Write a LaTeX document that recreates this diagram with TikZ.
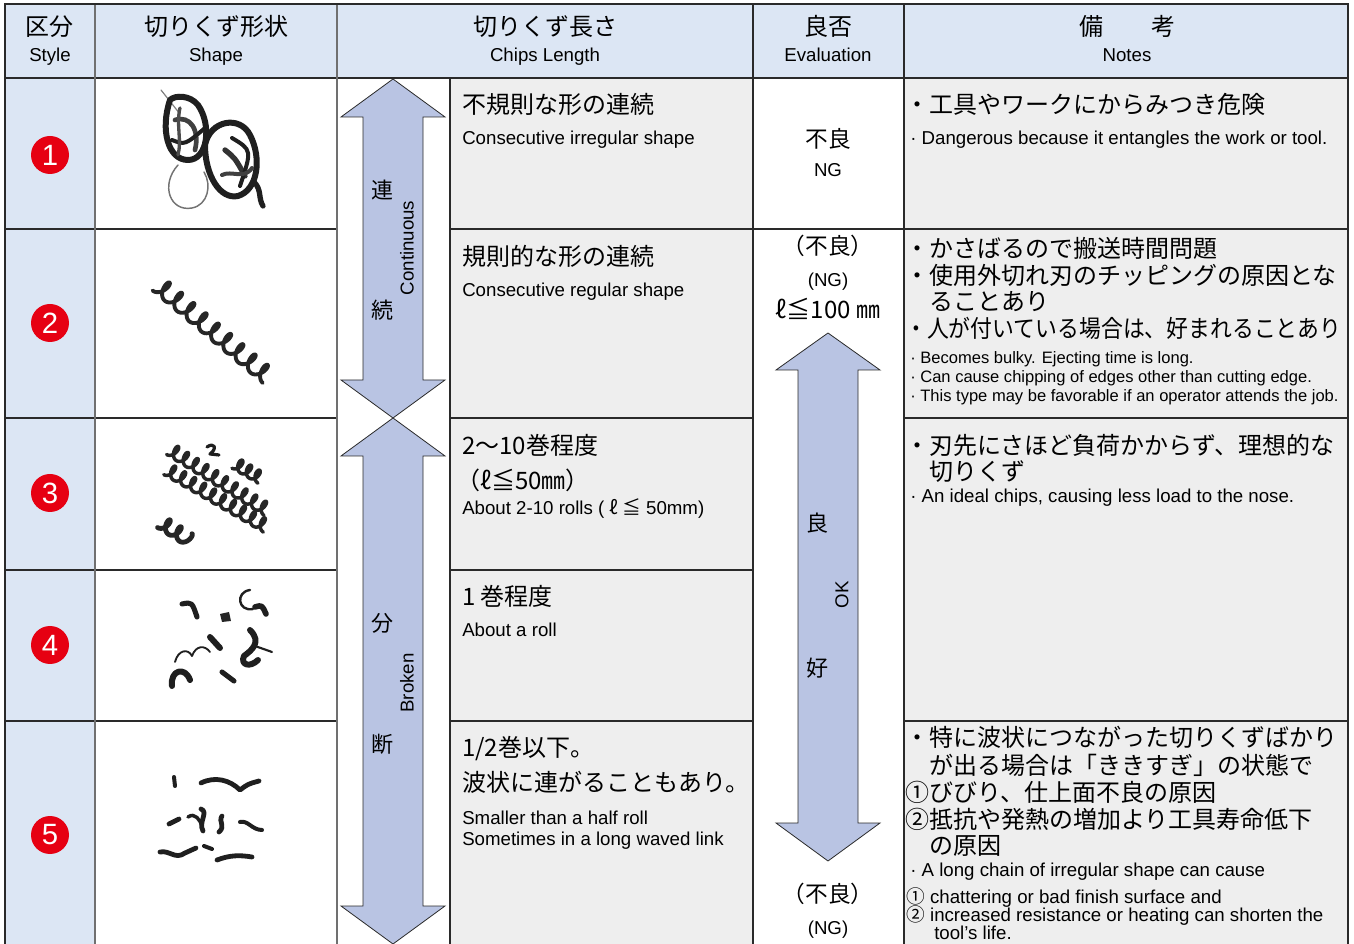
\documentclass[tikz,border=0pt]{standalone}
\usepackage{fontspec}
\setmainfont{Liberation Sans}
\newfontfamily\jp{Noto Sans CJK JP}
\definecolor{hdrblue}{HTML}{DCE6F4}
\definecolor{cellgray}{HTML}{EEEEEE}
\definecolor{arrowblue}{HTML}{B9C4E3}
\definecolor{numred}{HTML}{E60012}
\definecolor{gridc}{HTML}{2A2A2A}
\definecolor{gridg}{HTML}{707070}
\tikzset{
  gridline/.style={draw=gridc, line width=0.9pt},
  gridgray/.style={draw=gridg, line width=1.1pt},
  border/.style={draw=gridc, line width=2.2pt},
  bigarrow/.style={fill=arrowblue, draw=gridc, line width=0.6pt, line join=miter},
  hja/.style={font=\jp\fontsize{18}{20}\selectfont, inner sep=0pt, anchor=base},
  hen/.style={font=\fontsize{14}{16}\selectfont, inner sep=0pt, anchor=base},
  ja/.style={font=\jp\fontsize{18}{20}\selectfont, inner sep=0pt, anchor=base west},
  en/.style={font=\fontsize{14}{16}\selectfont, inner sep=0pt, anchor=base west},
  ensm/.style={font=\fontsize{12.4}{14}\selectfont, inner sep=0pt, anchor=base west},
  evja/.style={font=\jp\fontsize{17}{20}\selectfont, inner sep=0pt, anchor=base},
  even/.style={font=\fontsize{14}{16}\selectfont, inner sep=0pt, anchor=base},
  arja/.style={font=\jp\fontsize{16.5}{18}\selectfont, inner sep=0pt, anchor=center},
  aren/.style={font=\fontsize{14}{16}\selectfont, inner sep=0pt, anchor=center, rotate=90},
  num/.style={circle, fill=numred, text=white, inner sep=0pt, minimum size=28.5pt,
              font=\fontsize{22}{22}\selectfont},
  chip/.style={draw=black!88, line cap=round, line join=round},
  coil/.style={draw=black!85, line cap=round, line join=round, line width=2.4pt},
}
\begin{document}
\begin{tikzpicture}[x=0.75pt,y=-0.75pt]
\useasboundingbox (0,0) rectangle (1354,944);
% ---------- backgrounds
\fill[hdrblue] (5,4) rectangle (1348,78);
\fill[hdrblue] (5,78) rectangle (95,944);
\fill[cellgray] (450,78) rectangle (753,944);
\fill[cellgray] (904,78) rectangle (1348,944);
% ---------- grid
\draw[gridline] (5,78) -- (1348,78);
\draw[gridline] (5,229) -- (337,229) (450,229) -- (1348,229);
\draw[gridline] (5,418) -- (337,418) (450,418) -- (753,418) (904,418) -- (1348,418);
\draw[gridline] (5,570) -- (337,570) (450,570) -- (753,570);
\draw[gridline] (5,721) -- (337,721) (450,721) -- (753,721) (904,721) -- (1348,721);
\draw[gridgray] (95,4) -- (95,944) (337,4) -- (337,944);
\draw[gridline] (450,78) -- (450,944) (753,4) -- (753,944) (904,4) -- (904,944);
\draw[border] (5,944) -- (5,4) -- (1348,4) -- (1348,944);
% ---------- big arrows
\draw[bigarrow] (393,79) -- (445,117) -- (423,117) -- (423,380) -- (445,380) -- (393,418)
  -- (341,380) -- (363,380) -- (363,117) -- (341,117) -- cycle;
\draw[bigarrow] (393,418) -- (445,456) -- (423,456) -- (423,906) -- (445,906) -- (393,944)
  -- (341,906) -- (363,906) -- (363,456) -- (341,456) -- cycle;
\draw[bigarrow] (828,333) -- (880,370) -- (858,370) -- (858,823) -- (880,823) -- (828,861)
  -- (776,823) -- (798,823) -- (798,370) -- (776,370) -- cycle;
% ---------- header
\node[hja] (h1j) at (50,36) {区分};
\node[hen] (h1e) at (50,62) {Style};
\node[hja] (h2j) at (216,36) {切りくず形状};
\node[hen] (h2e) at (216,62) {Shape};
\node[hja] (h3j) at (545,36) {切りくず長さ};
\node[hen] (h3e) at (545,62) {Chips Length};
\node[hja] (h4j) at (828,36) {良否};
\node[hen] (h4e) at (828,62) {Evaluation};
\node[hja] (h5j) at (1127,36) {備　　考};
\node[hen] (h5e) at (1127,62) {Notes};
% ---------- numbers
\node[num] (n1) at (50,155) {1};
\node[num] (n2) at (50,323) {2};
\node[num] (n3) at (50,493) {3};
\node[num] (n4) at (50,645) {4};
\node[num] (n5) at (50,835) {5};
% ---------- arrow labels
\node[arja] (a1) at (382,190) {連};
\node[arja] (a2) at (382,310) {続};
\node[aren] (a3) at (407,248) {Continuous};
\node[arja] (a4) at (382,623) {分};
\node[arja] (a5) at (382,744) {断};
\node[aren] (a6) at (407,683) {Broken};
\node[arja] (a7) at (817,523) {良};
\node[arja] (a8) at (817,668) {好};
\node[aren] (a9) at (842,595) {OK};
% ---------- chips length texts
\node[ja] (c1j) at (462,114) {不規則な形の連続};
\node[en] (c1e) at (462,145) {Consecutive irregular shape};
\node[ja] (c2j) at (462,266) {規則的な形の連続};
\node[en] (c2e) at (462,297) {Consecutive regular shape};
\node[ja] (c3j) at (462,455) {2～10巻程度};
\node[ja] (c3k) at (456,490) {（ℓ≦50㎜）};
\node[en] (c3e) at (462,515) {About 2-10 rolls ( {\jp ℓ ≦} 50mm)};
\node[ja] (c4j) at (462,606) {1 巻程度};
\node[en] (c4e) at (462,637) {About a roll};
\node[ja] (c5j) at (462,757) {1/2巻以下。};
\node[ja] (c5k) at (462,792) {波状に連がることもあり。};
\node[en] (c5e) at (462,824) {Smaller than a half roll};
\node[en] (c5f) at (462,845) {Sometimes in a long waved link};
% ---------- evaluation texts
\node[evja] (e1j) at (828,148) {不良};
\node[even] (e1e) at (828,177) {NG};
\node[evja] (e2j) at (828,255) {（不良）};
\node[even] (e2e) at (828,287) {(NG)};
\node[hja] (e2l) at (828,319) {ℓ≦100 ㎜};
\node[evja] (e5j) at (828,902) {（不良）};
\node[even] (e5e) at (828,934) {(NG)};
% ---------- notes
\node[ja] (r1a) at (905,114) {・工具やワークにからみつき危険};
\node[en] (r1e) at (910,145) {· Dangerous because it entangles the work or tool.};
\node[ja] (r2a) at (905,258) {・かさばるので搬送時間問題};
\node[ja] (r2b) at (905,285) {・使用外切れ刃のチッピングの原因とな};
\node[ja] (r2c) at (905,311) {　ることあり};
\node[ja] (r2d) at (905,338) {\scalebox{0.91}[1]{・人が付いている場合は、好まれることあり}};
\node[ensm] (r2e) at (910,364) {· Becomes bulky. Ejecting time is long.};
\node[ensm] (r2f) at (910,383) {· Can cause chipping of edges other than cutting edge.};
\node[ensm] (r2g) at (910,402) {· This type may be favorable if an operator attends the job.};
\node[ja] (r3a) at (905,455) {・刃先にさほど負荷かからず、理想的な};
\node[ja] (r3b) at (905,481) {　切りくず};
\node[en] (r3e) at (910,503) {· An ideal chips, causing less load to the nose.};
\node[ja] (r5a) at (905,747) {・特に波状につながった切りくずばかり};
\node[ja] (r5b) at (905,774) {　が出る場合は「ききすぎ」の状態で};
\node[ja] (r5c) at (905,801) {①びびり、仕上面不良の原因};
\node[ja] (r5d) at (905,828) {②抵抗や発熱の増加より工具寿命低下};
\node[ja] (r5f) at (905,854) {　の原因};
\node[en] (r5e) at (910,876) {· A long chain of irregular shape can cause};
\node[en] (r5g) at (906,903) {{\jp ①} chattering or bad finish surface and};
\node[en] (r5h) at (906,921) {{\jp ②} increased resistance or heating can shorten the};
\node[en] (r5i) at (934,939) {tool's life.};
% ---------- chip pictures
% row 1: tangled ribbon
\draw[chip, line width=0.9pt, draw=black!50] (161,90) -- (180,114);
\draw[chip, line width=1.1pt, draw=black!55] (178,165) .. controls (160,185) and (170,212) .. (192,208)
  .. controls (208,205) and (212,185) .. (204,172);
\draw[chip, line width=4.5pt] (170,100) .. controls (160,130) and (168,160) .. (188,160)
  .. controls (208,160) and (212,125) .. (198,105) .. controls (190,95) and (175,95) .. (170,100);
\draw[chip, line width=3.5pt, draw=black!75] (175,120) .. controls (190,115) and (200,130) .. (195,150);
\draw[chip, line width=3pt] (172,140) .. controls (185,145) .. (205,128);
\draw[chip, line width=2.5pt, draw=black!70] (180,108) .. controls (176,125) and (182,140) .. (178,155);
\draw[chip, line width=4.5pt] (205,145) .. controls (210,120) and (240,115) .. (250,135)
  .. controls (262,158) and (258,190) .. (238,196) .. controls (220,200) and (205,175) .. (205,145);
\draw[chip, line width=4pt, draw=black!80] (225,150) .. controls (235,158) .. (245,176);
\draw[chip, line width=3pt] (232,138) .. controls (252,150) .. (240,186);
\draw[chip, line width=3pt, draw=black!75] (222,175) .. controls (232,170) and (244,180) .. (252,168);
\draw[chip, line width=4pt] (254,182) .. controls (262,190) and (258,198) .. (263,206);
% row 2: regular helix
\draw[coil, line width=2.9pt, shift={(158,284)}, rotate=-40] plot[domain=0:3240, samples=400, smooth]
  ({\x/360*16 + 5*sin(\x)}, {8.5*cos(\x)});
% row 3: coils
\draw[coil, line width=2.6pt, shift={(170,449)}, rotate=-32] plot[domain=0:3600, samples=400, smooth]
  ({\x/360*11.5 + 4*sin(\x)}, {6.5*cos(\x)});
\draw[coil, line width=2.6pt, shift={(167,469)}, rotate=-30] plot[domain=0:3600, samples=400, smooth]
  ({\x/360*11.5 + 4*sin(\x)}, {6.5*cos(\x)});
\draw[coil, line width=2.6pt, shift={(235,463)}, rotate=-30] plot[domain=0:1080, samples=150, smooth]
  ({\x/360*10 + 4*sin(\x)}, {6*cos(\x)});
\draw[coil, line width=3.6pt, shift={(161,522)}, rotate=-32] plot[domain=0:900, samples=120, smooth]
  ({\x/360*13 + 4*sin(\x)}, {6.5*cos(\x)});
\draw[chip, line width=2.4pt] (207,447) .. controls (214,442) and (218,448) .. (210,454) -- (219,455);
% row 4: broken pieces
\draw[chip, line width=3.8pt] (182,604) .. controls (192,602) .. (197,617);
\fill[black!85] (220,614) -- (229,612) -- (231,621) -- (222,622) -- cycle;
\draw[chip, line width=1.8pt] (250,590) .. controls (235,592) and (238,612) .. (253,609);
\draw[chip, line width=4.2pt] (255,607) .. controls (262,605) .. (266,614);
\draw[chip, line width=4.5pt] (210,637) -- (220,648);
\draw[chip, line width=1.4pt] (175,662) .. controls (178,650) and (188,648) .. (192,656)
  .. controls (196,645) and (205,645) .. (210,652);
\draw[chip, line width=4.5pt] (250,630) .. controls (262,642) and (252,650) .. (244,656)
  .. controls (240,665) and (250,668) .. (258,660);
\draw[chip, line width=1.6pt] (255,646) -- (272,652);
\draw[chip, line width=4.5pt] (172,686) .. controls (170,670) and (185,666) .. (190,680);
\draw[chip, line width=3.8pt] (222,672) -- (234,681);
% row 5: small waved pieces
\draw[chip, line width=3pt] (174,777) -- (175,786);
\draw[chip, line width=3.6pt] (201,783) .. controls (215,776) and (230,780) .. (240,790)
  .. controls (248,784) .. (259,781);
\draw[chip, line width=3.6pt] (169,824) -- (179,819);
\draw[chip, line width=2.6pt] (188,817) .. controls (195,812) and (200,820) .. (202,826);
\draw[chip, line width=3.6pt] (201,809) .. controls (209,812) and (198,822) .. (203,831);
\draw[chip, line width=3.6pt] (222,816) .. controls (218,822) and (226,826) .. (219,832);
\draw[chip, line width=3pt] (240,822) .. controls (248,820) and (252,830) .. (262,830);
\draw[chip, line width=3.6pt] (160,852) .. controls (170,850) and (175,860) .. (185,853)
  .. controls (190,850) .. (196,848);
\draw[chip, line width=3pt] (204,846) -- (212,849);
\draw[chip, line width=3.6pt] (217,860) .. controls (230,855) and (240,855) .. (252,857);
\end{tikzpicture}
\end{document}
